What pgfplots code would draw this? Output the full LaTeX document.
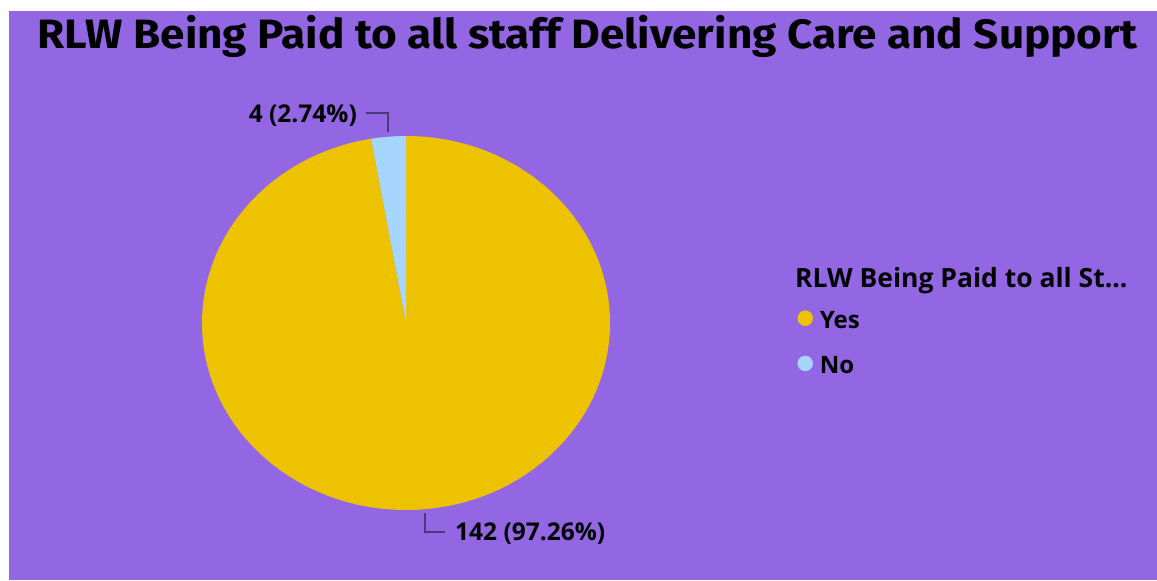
\documentclass[border=0pt]{standalone}
\usepackage{fontspec}
\usepackage{pgfplots}
\pgfplotsset{compat=1.18}
\usepackage{pgfplotstable}
\setmainfont{Open Sans}
\newfontfamily\titlefont{Fira Sans}

\definecolor{bgpurple}{HTML}{9367E4}
\definecolor{yescol}{HTML}{EDC200}
\definecolor{nocol}{HTML}{A6D5FE}
\definecolor{leader}{HTML}{4B3A75}

% answer counts
\pgfplotstableread{
answer count
Yes 142
No 4
}\piedata

\begin{document}
\begin{tikzpicture}[x=1pt,y=1pt]
  \useasboundingbox (0,0) rectangle (1157,581);
  \fill[white] (0,0) rectangle (1157,581);
  \fill[bgpurple] (9,1) rectangle (1157,570);

  \node[anchor=base, inner sep=0, xscale=1.075, font=\titlefont\bfseries\fontsize{41}{42}\selectfont]
    at (587.5,532) {RLW Being Paid to all staff Delivering Care and Support};

  \pgfplotstablegetelem{0}{count}\of\piedata \let\nyes\pgfplotsretval
  \pgfplotstablegetelem{1}{count}\of\piedata \let\nno\pgfplotsretval
  \pgfmathsetmacro\total{\nyes+\nno}
  \pgfmathsetmacro\ayes{\nyes/\total*360}
  \pgfmathsetmacro\pyes{\nyes/\total*100}
  \pgfmathsetmacro\pno{\nno/\total*100}

  \begin{axis}[at={(406pt,258pt)}, anchor=center, scale only axis,
      width=408pt, height=374pt,
      xmin=-1, xmax=1, ymin=-1, ymax=1,
      hide axis, clip=false,
      legend cell align=left,
      legend style={at={(1.4596,0.5334)}, anchor=north west,
        draw=none, fill=none, inner sep=0pt, outer sep=0pt,
        row sep=27.5pt,
        font=\bfseries\fontsize{24}{24}\selectfont,
        nodes={inner sep=0pt, text height=16pt, text depth=0pt},
        /tikz/every odd column/.style={column sep=7pt}}]

    % Yes slice, clockwise from 12 o'clock
    \fill[yescol] (axis cs:0,0) -- (axis cs:0,1)
      arc[start angle=90, delta angle=-\ayes, x radius=204pt, y radius=187pt] -- cycle;
    % No slice
    \fill[nocol] (axis cs:0,0) -- (axis cs:0,1)
      arc[start angle=90, delta angle=360-\ayes, x radius=204pt, y radius=187pt] -- cycle;

    \addlegendimage{legend image code/.code={\fill[yescol] (0pt,2pt) circle[radius=7.5pt];}}
    \addlegendentry{Yes}
    \addlegendimage{legend image code/.code={\fill[nocol] (0pt,2pt) circle[radius=7.5pt];}}
    \addlegendentry{No}
  \end{axis}

  % data labels
  \draw[leader, line width=1.2pt] (366pt,468pt) -- (388pt,468pt) -- (388pt,449pt);
  \node[anchor=base east, inner sep=0, font=\bfseries\fontsize{24.5}{24}\selectfont]
    at (357pt,458pt) {\nno\ (\pgfmathprintnumber[fixed,precision=2,fixed zerofill,assume math mode=true]{\pno}\%)};
  \draw[leader, line width=1.2pt] (425pt,68pt) -- (425pt,49pt) -- (445pt,49pt);
  \node[anchor=base west, inner sep=0, font=\bfseries\fontsize{24.5}{24}\selectfont]
    at (455pt,40pt) {\nyes\ (\pgfmathprintnumber[fixed,precision=2,fixed zerofill,assume math mode=true]{\pyes}\%)};

  % legend title
  \node[anchor=base west, inner sep=0, font=\bfseries\fontsize{26.5}{26}\selectfont]
    at (795pt,293pt) {RLW Being Paid to all St...};
\end{tikzpicture}
\end{document}
